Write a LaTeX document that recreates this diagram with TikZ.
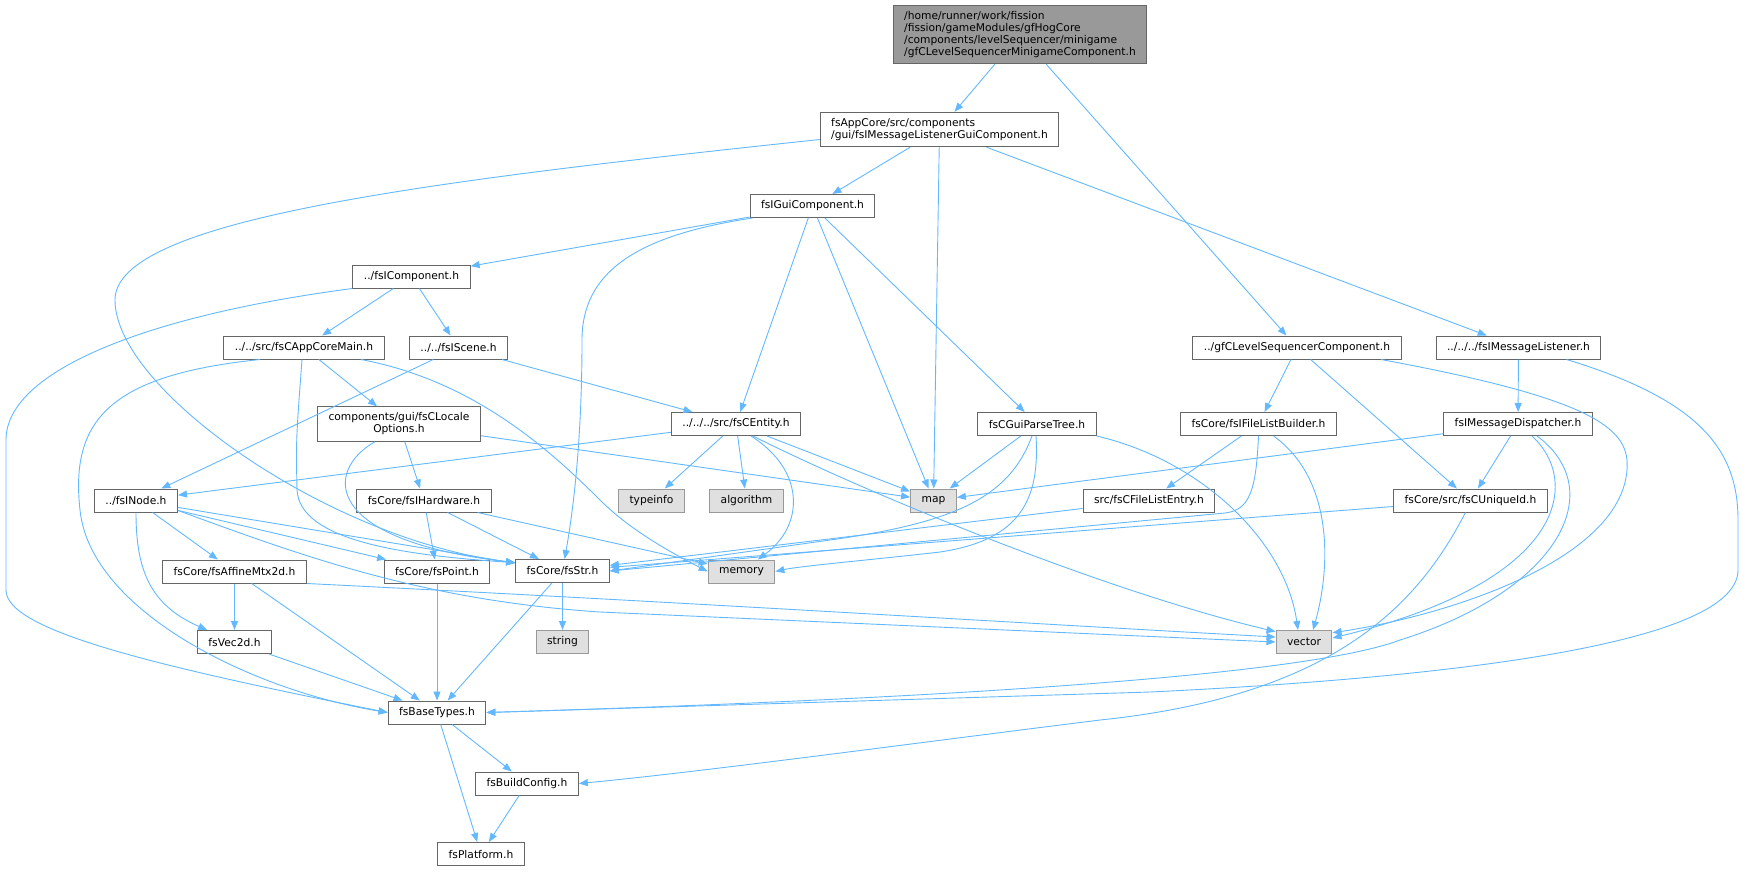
\documentclass[tikz,border=0pt]{standalone}
\usepackage{fontspec}
\setmainfont{DejaVu Sans}
\usetikzlibrary{arrows.meta}
\definecolor{linkblue}{HTML}{63B8FF}
\definecolor{boxline}{HTML}{666666}
\definecolor{sysline}{HTML}{999999}
\definecolor{sysfill}{HTML}{E0E0E0}
\definecolor{topfill}{HTML}{999999}

\begin{document}
\begin{tikzpicture}[x=1pt,y=-1pt,
            hdr/.style={draw=boxline,fill=white,line width=1pt,inner xsep=11pt,
                inner ysep=6pt,minimum height=23pt,font=\fontsize{10.7}{12}\selectfont},
            syshdr/.style={hdr,draw=sysline,fill=sysfill},
            dep/.style={draw=linkblue,line width=0.9pt,-{Triangle[length=9pt,width=7pt]}}]
            \useasboundingbox (0,0) rectangle (1744,871);
            \node[hdr,fill=topfill,align=left] (top) at (1020,34.5)
                {/home/runner/work/fission\\/fission/gameModules/gfHogCore\\/components/levelSequencer/minigame\\/gfCLevelSequencerMinigameComponent.h};
            \node[hdr,align=left] (mlgc) at (939.5,129.5)
                {fsAppCore/src/components\\/gui/fsIMessageListenerGuiComponent.h};
            \node[hdr] (gui) at (812.5,206) {fsIGuiComponent.h};
            \node[hdr] (comp) at (411.5,276.5) {../fsIComponent.h};
            \node[hdr] (appmain) at (304,347.5) {../../src/fsCAppCoreMain.h};
            \node[hdr] (scene) at (458.5,347.5) {../../fsIScene.h};
            \node[hdr,align=center] (locale) at (399,424)
                {components/gui/fsCLocale\\Options.h};
            \node[hdr] (inode) at (136,500.5) {../fsINode.h};
            \node[hdr] (hardware) at (424,500.5) {fsCore/fsIHardware.h};
            \node[hdr] (affine) at (234.5,571.5) {fsCore/fsAffineMtx2d.h};
            \node[hdr] (point) at (437,571.5) {fsCore/fsPoint.h};
            \node[hdr] (str) at (562.5,571) {fsCore/fsStr.h};
            \node[hdr] (entity) at (736,424) {../../../src/fsCEntity.h};
            \node[hdr] (parse) at (1037,424) {fsCGuiParseTree.h};
            \node[syshdr] (typeinfo) at (651.5,500.5) {typeinfo};
            \node[syshdr] (algorithm) at (746.5,500.5) {algorithm};
            \node[syshdr] (map) at (933.5,500.5) {map};
            \node[syshdr] (memory) at (741.5,571.5) {memory};
            \node[hdr] (entry) at (1149,500.5) {src/fsCFileListEntry.h};
            \node[hdr] (seqcomp) at (1297,347.5) {../gfCLevelSequencerComponent.h};
            \node[hdr] (listener) at (1518.5,347.5) {../../../fsIMessageListener.h};
            \node[hdr] (builder) at (1258.5,424) {fsCore/fsIFileListBuilder.h};
            \node[hdr] (dispatcher) at (1518,424) {fsIMessageDispatcher.h};
            \node[hdr] (uniqueid) at (1470.5,500.5) {fsCore/src/fsCUniqueId.h};
            \node[syshdr] (vector) at (1304,642) {vector};
            \node[syshdr] (string) at (562.5,642) {string};
            \node[hdr] (vec2d) at (234.5,642) {fsVec2d.h};
            \node[hdr] (basetypes) at (437,712.5) {fsBaseTypes.h};
            \node[hdr] (buildcfg) at (527,783.5) {fsBuildConfig.h};
            \node[hdr] (platform) at (481,854) {fsPlatform.h};
            \draw[dep] (top) -- (mlgc);
            \draw[dep] (top) -- (seqcomp);
            \draw[dep] (mlgc) -- (gui);
            \draw[dep] (mlgc) -- (map);
            \draw[dep] (mlgc) -- (listener);
            \draw[dep] ([yshift=-10pt]mlgc.west) .. controls (420,182) and (115,220) .. (115,300)
                .. controls (115,390) and (330,540) .. (str.170);
            \draw[dep] (gui) -- (comp);
            \draw[dep] ([xshift=-60pt]gui.south) .. controls (640,235) and (582,270) .. (582,340)
                .. controls (582,430) and (575,500) .. (str);
            \draw[dep] (gui) -- (entity);
            \draw[dep] (gui) -- (map);
            \draw[dep] (gui) -- (parse);
            \draw[dep] (comp) -- (appmain);
            \draw[dep] (comp) -- (scene);
            \draw[dep] (comp.south west) .. controls (150,315) and (6,370) .. (6,440)
                -- (6,590) .. controls (6,630) and (150,665) .. (basetypes.west);
            \draw[dep] (appmain) -- (locale);
            \draw[dep] ([xshift=-44pt]appmain.south) .. controls (110,375) and (70,420) .. (80,510)
                .. controls (90,610) and (250,690) .. (basetypes.west);
            \draw[dep] ([xshift=-2pt]appmain.south) .. controls (296,440) .. (297,490)
                .. controls (300,540) and (400,555) .. (str.170);
            \draw[dep] ([xshift=57pt]appmain.south) .. controls (470,380) and (545,445) .. (600,500)
                .. controls (630,530) and (670,552) .. (memory.west);
            \draw[dep] (scene) -- (inode);
            \draw[dep] (scene) -- (entity);
            \draw[dep] (locale) -- (hardware);
            \draw[dep] ([xshift=-24pt]locale.south) .. controls (325,470) and (320,540) .. (str.170);
            \draw[dep] (locale) -- (map);
            \draw[dep] (entity) -- (inode);
            \draw[dep] (entity) -- (typeinfo);
            \draw[dep] (entity) -- (algorithm);
            \draw[dep] (entity) -- (map);
            \draw[dep] ([xshift=15pt]entity.south) .. controls (805,470) and (805,525) .. (memory);
            \draw[dep] ([xshift=17pt]entity.south) .. controls (860,490) and (1100,590) .. (vector.160);
            \draw[dep] (parse) -- (map);
            \draw[dep] ([xshift=-5pt]parse.south) .. controls (1010,495) and (960,522) .. (830,540)
                -- (str.east);
            \draw[dep] ([xshift=-1pt]parse.south) .. controls (1040,500) and (1020,540) .. (940,552)
                .. controls (870,560) and (800,566) .. (memory.east);
            \draw[dep] (parse.south east) .. controls (1200,460) and (1285,540) .. ([xshift=-6pt]vector.north);
            \draw[dep] (seqcomp) -- (builder);
            \draw[dep] (seqcomp) -- (uniqueid);
            \draw[dep] ([xshift=84pt]seqcomp.south) .. controls (1600,400) and (1630,430) .. (1627,470)
                .. controls (1620,560) and (1450,615) .. (vector.18);
            \draw[dep] (listener) -- (dispatcher);
            \draw[dep] ([xshift=48pt]listener.south) .. controls (1700,400) and (1738,450) .. (1738,520)
                -- (1738,570) .. controls (1738,650) and (1400,680) .. (1150,692) -- (basetypes.east);
            \draw[dep] (dispatcher) -- (map);
            \draw[dep] (dispatcher) -- (uniqueid);
            \draw[dep] ([xshift=14pt]dispatcher.south) .. controls (1580,480) and (1570,580) .. (vector.8);
            \draw[dep] ([xshift=19pt]dispatcher.south) .. controls (1610,490) and (1560,590) .. (1400,640)
                .. controls (1300,678) and (900,700) .. (basetypes.east);
            \draw[dep] (builder) -- (entry);
            \draw[dep] (builder.south) .. controls (1256,490) and (1250,510) .. (1225,513) -- (str.east);
            \draw[dep] ([xshift=15pt]builder.south) .. controls (1335,480) and (1330,570) .. ([xshift=9pt]vector.north);
            \draw[dep] (entry) -- (str);
            \draw[dep] (uniqueid) -- (str);
            \draw[dep] ([xshift=-5pt]uniqueid.south) .. controls (1420,600) and (1340,695) .. (1100,720)
                .. controls (900,745) and (700,772) .. (buildcfg.east);
            \draw[dep] (inode) -- (affine);
            \draw[dep] (inode.south) .. controls (136,570) and (150,605) .. (vec2d);
            \draw[dep] (inode) -- (point);
            \draw[dep] (inode) -- (str);
            \draw[dep] ([yshift=-10pt]inode.east) .. controls (300,555) and (420,600) .. (600,612)
                -- (vector.west);
            \draw[dep] (hardware) -- (point);
            \draw[dep] (hardware) -- (str);
            \draw[dep] (hardware) -- (memory);
            \draw[dep] (affine) -- (vec2d);
            \draw[dep] (affine) -- (basetypes);
            \draw[dep] (affine.south east) .. controls (700,603) and (1000,622) .. (vector.170);
            \draw[dep] (point) -- (basetypes);
            \draw[dep] (str) -- (string);
            \draw[dep] (str) -- (basetypes);
            \draw[dep] (vec2d) -- (basetypes);
            \draw[dep] (basetypes) -- (buildcfg);
            \draw[dep] (basetypes) -- (platform);
            \draw[dep] (buildcfg) -- (platform);
        \end{tikzpicture}
\end{document}
